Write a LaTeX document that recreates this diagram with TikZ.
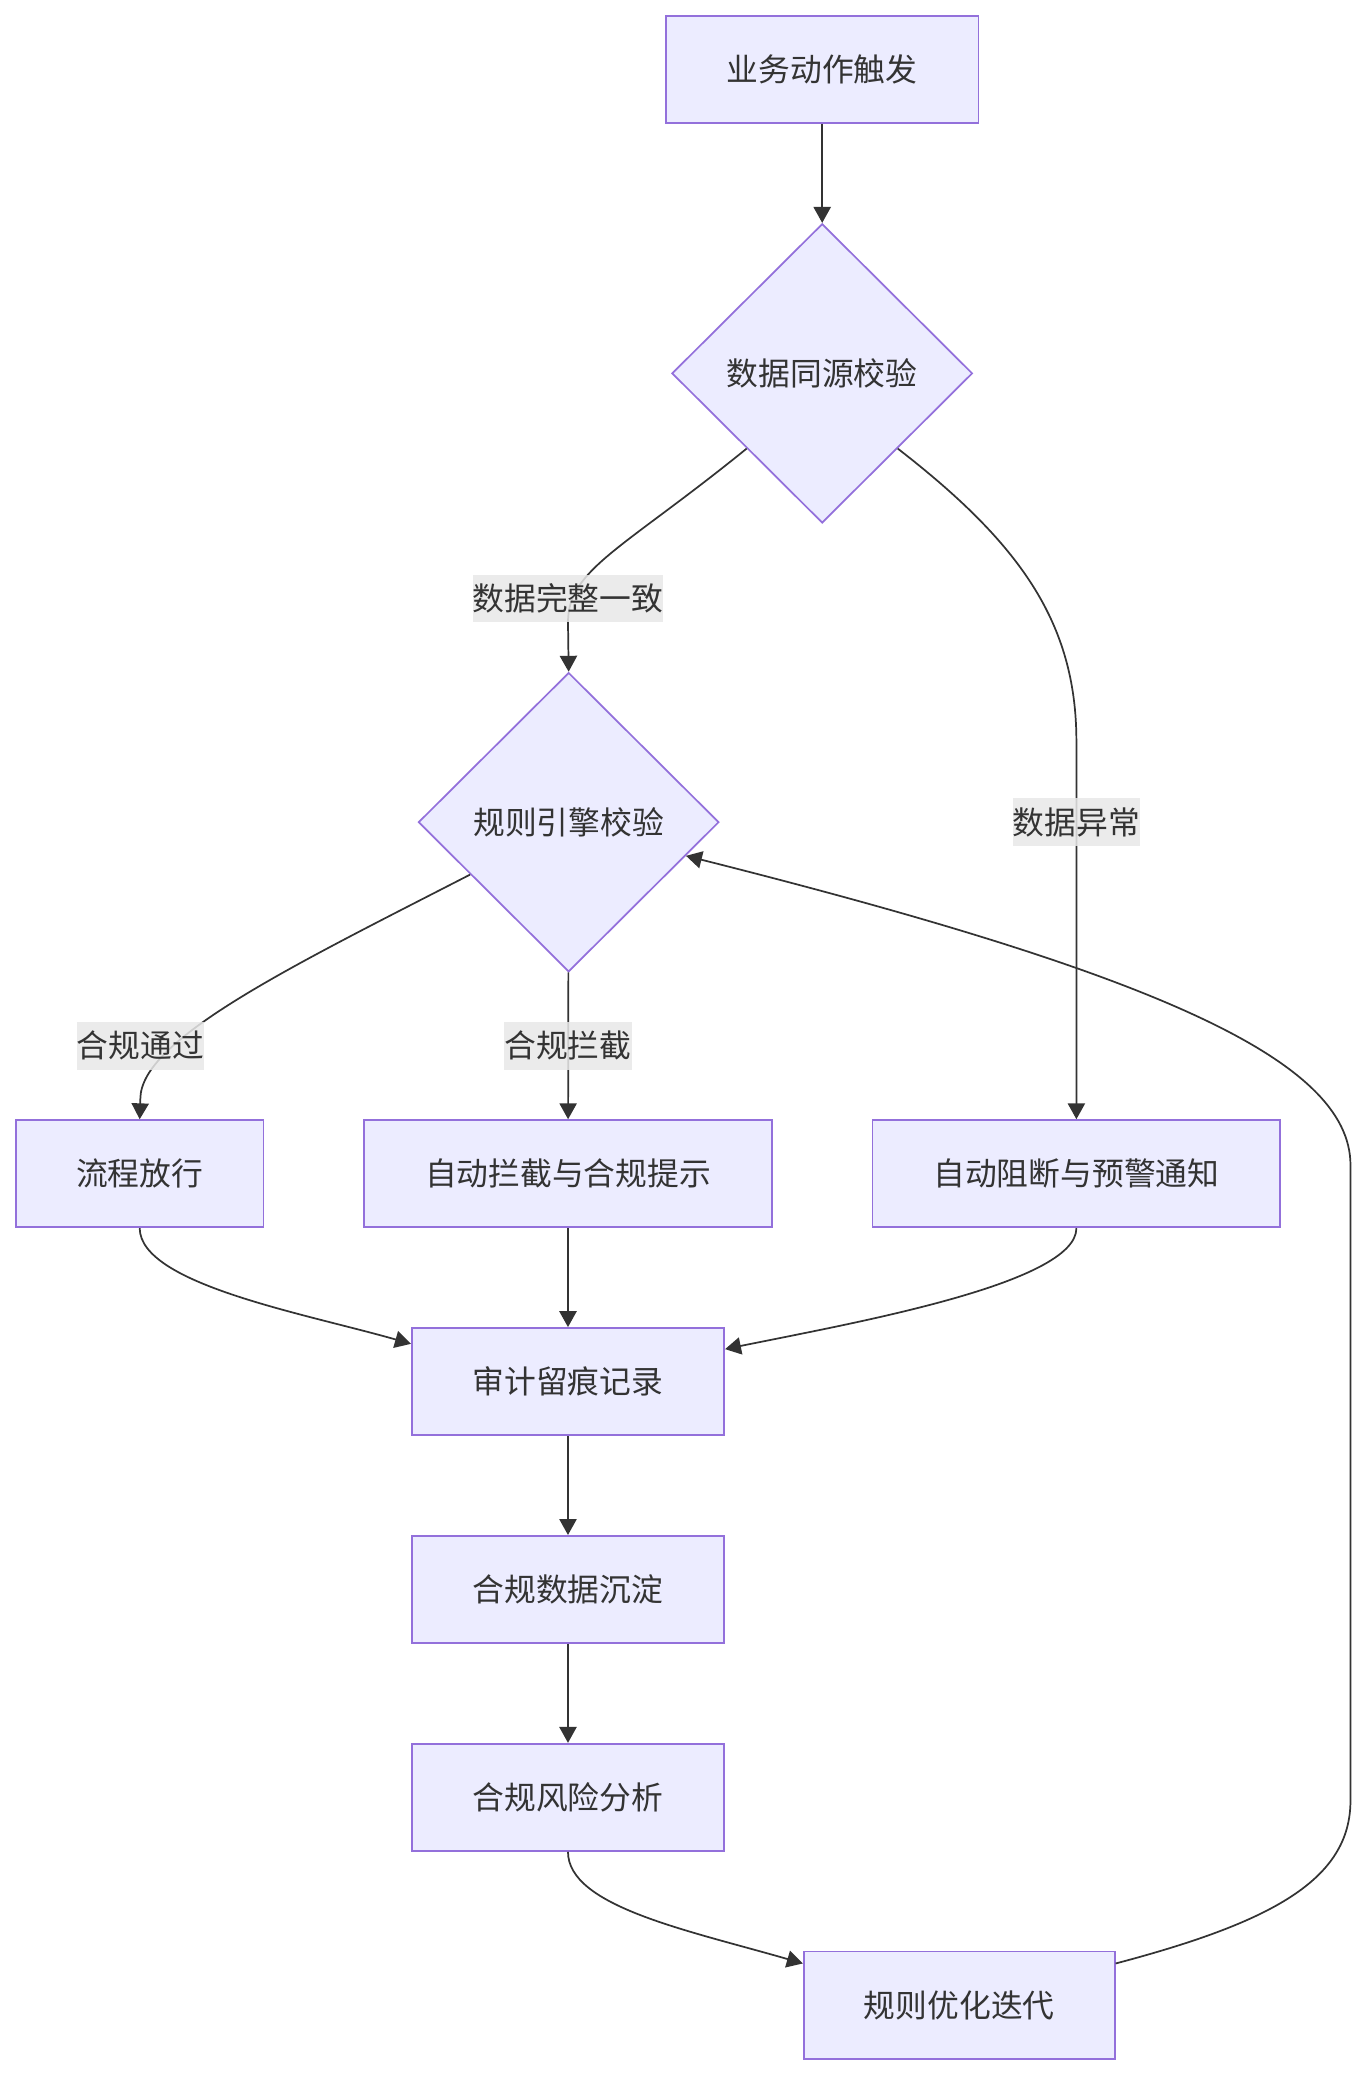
\documentclass[tikz,border=0pt]{standalone}
\usepackage{fontspec}
\setmainfont{Noto Sans CJK SC}
\usetikzlibrary{shapes.geometric,arrows.meta}
\definecolor{nodefill}{HTML}{ECECFF}
\definecolor{nodeborder}{HTML}{9370DB}
\definecolor{textcol}{HTML}{333333}
\definecolor{edgecol}{HTML}{333333}
\definecolor{lblbg}{HTML}{E8E8E8}
\tikzset{
  basefont/.style={font=\fontsize{24pt}{28pt}\selectfont, text=textcol, text height=19.5pt, text depth=1.5pt},
  box/.style={basefont, rectangle, draw=nodeborder, fill=nodefill, line width=1.3pt, minimum height=81pt, inner sep=0pt},
  dia/.style={basefont, diamond, aspect=1, draw=nodeborder, fill=nodefill, line width=1.3pt, minimum width=227pt, minimum height=226pt, inner sep=0pt},
  lbl/.style={basefont, rectangle, fill=lblbg, fill opacity=0.85, text opacity=1, inner xsep=0pt, minimum height=36pt, inner ysep=0pt},
  flow/.style={draw=edgecol, line width=1.3pt, -{Triangle[length=12pt,width=13pt]}}
}
\begin{document}
\begin{tikzpicture}[x=1pt,y=-1pt]
\useasboundingbox (0,0) rectangle (1032,1568);
\fill[white] (0,0) rectangle (1032,1568);

\node[box, minimum width=236pt] (n1) at (621,52.5) {业务动作触发};
\node[dia] (d1) at (621,282) {数据同源校验};
\node[dia] (d2) at (429.5,621) {规则引擎校验};
\node[box, minimum width=187pt] (fl) at (105.5,886.5) {流程放行};
\node[box, minimum width=308pt] (zl) at (429,886.5) {自动拦截与合规提示};
\node[box, minimum width=308pt] (zd) at (813,886.5) {自动阻断与预警通知};
\node[box, minimum width=236pt] (sj) at (429,1043.5) {审计留痕记录};
\node[box, minimum width=236pt] (cd) at (429,1200.5) {合规数据沉淀};
\node[box, minimum width=236pt] (fx) at (429,1357.5) {合规风险分析};
\node[box, minimum width=235pt] (gy) at (724.5,1514.5) {规则优化迭代};

\draw[flow] (n1) -- (d1);
\draw[flow] (d1.south west) .. controls (470,415) and (429,430) .. (429,470) -- (d2.north);
\draw[flow] (d1.south east) .. controls (770,410) and (813,470) .. (813,560) -- (zd.north);
\draw[flow] (d2.208) .. controls (220,730) and (106,785) .. (106,830) -- (fl.north);
\draw[flow] (d2) -- (zl);
\draw[flow] (fl.south) .. controls (106,970) and (230,992) .. ([yshift=28.5pt]sj.west);
\draw[flow] (zl) -- (sj);
\draw[flow] (zd.south) .. controls (813,970) and (640,1000) .. ([yshift=24.5pt]sj.east);
\draw[flow] (sj) -- (cd);
\draw[flow] (cd) -- (fx);
\draw[flow] (fx.south) .. controls (429,1440) and (520,1458) .. ([yshift=31.5pt]gy.west);
\draw[flow] ([yshift=31.5pt]gy.east) .. controls (960,1452) and (1020,1420) .. (1020,1360) -- (1020,880) .. controls (1020,800) and (870,735) .. (d2.-16.5);

\node[lbl] (l1) at (429,452) {数据完整一致};
\node[lbl] (l2) at (813,621) {数据异常};
\node[lbl] (l3) at (106,790) {合规通过};
\node[lbl] (l4) at (429,790) {合规拦截};
\end{tikzpicture}
\end{document}
